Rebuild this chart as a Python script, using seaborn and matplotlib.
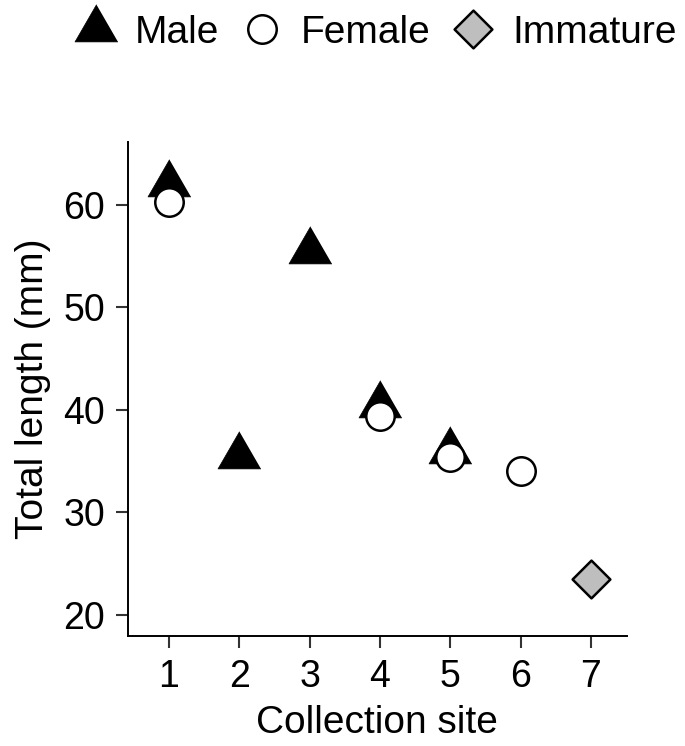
import pandas as pd
import matplotlib.pyplot as plt
import seaborn as sns

# values (triangle values at the triangle centroid)
male_site = [1, 2, 3, 4, 5]
male_length = [62.0, 35.5, 55.5, 40.5, 36.0]
female_site = [1, 4, 5, 6]
female_length = [60.3, 39.4, 35.4, 34.0]
immature_site = [7]
immature_length = [23.5]

groups = ["Male", "Female", "Immature"]
x_ticks = [1, 2, 3, 4, 5, 6, 7]
y_ticks = [20, 30, 40, 50, 60]

df = pd.concat([
    pd.DataFrame({"site": male_site, "length": male_length, "group": "Male"}),
    pd.DataFrame({"site": female_site, "length": female_length, "group": "Female"}),
    pd.DataFrame({"site": immature_site, "length": immature_length, "group": "Immature"}),
])

sns.set_theme(style="ticks")
plt.rcParams["font.family"] = ["Liberation Sans", "DejaVu Sans"]
plt.rcParams["text.color"] = "black"
plt.rcParams["axes.labelcolor"] = "black"

# equilateral triangle centred on its centroid, like R's pch 17
triangle = [(0, 1), (-0.866, -0.5), (0.866, -0.5)]
styles = {
    "Male": dict(marker=triangle, s=1275, color="black", linewidth=0.5),
    "Female": dict(marker="o", s=420, color="white", linewidth=1.8),
    "Immature": dict(marker="D", s=370, color="#bebebe", linewidth=1.8),
}

fig = plt.figure(figsize=(6.85, 7.46), dpi=100)
ax = fig.add_axes([0.187, 0.1475, 0.728, 0.662])

for g in groups:
    sns.scatterplot(
        data=df[df["group"] == g], x="site", y="length",
        edgecolor="black", label=g, ax=ax, zorder=3, **styles[g]
    )

ax.set_xlim(0.42, 7.51)
ax.set_ylim(17.95, 66.1)
ax.set_xticks(x_ticks)
ax.set_yticks(y_ticks)
ax.tick_params(labelsize=27, length=8.5, width=1.5, color="#333333",
               labelcolor="black", pad=8)
for side in ["left", "bottom"]:
    ax.spines[side].set_linewidth(1.4)
    ax.spines[side].set_color("black")
sns.despine(ax=ax)

ax.set_xlabel("Collection site", fontsize=28, labelpad=7)
ax.set_ylabel("Total length (mm)", fontsize=28, labelpad=9)

ax.legend(
    loc="center", bbox_to_anchor=(0.548, 0.956), bbox_transform=fig.transFigure,
    ncol=3, frameon=False, fontsize=28, scatterpoints=1, scatteryoffsets=[0.5],
    handlelength=1.1, handletextpad=0.45, columnspacing=0.55, borderaxespad=0,
)

plt.savefig("out.png", dpi=100)
plt.close()
